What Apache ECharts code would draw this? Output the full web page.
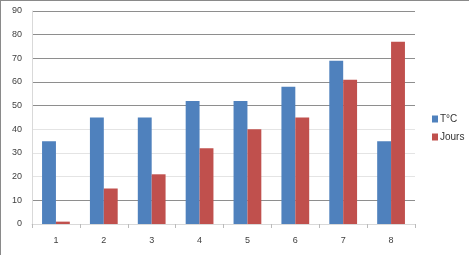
<!DOCTYPE html>
<html><head><meta charset="utf-8">
<script src="https://cdn.jsdelivr.net/npm/echarts@6/dist/echarts.min.js"></script>
<style>
html,body{margin:0;padding:0;background:#fff;}
#c{position:absolute;left:0;top:0;width:470px;height:255px;}
#b{position:absolute;left:0;top:0;width:469px;height:260px;border-left:1px solid #8a8a8a;border-top:1px solid #8a8a8a;box-sizing:border-box;pointer-events:none;}
</style></head>
<body><div id="c"></div><div id="b"></div>
<script>
const categories = ['1','2','3','4','5','6','7','8'];
const tempValues = [35, 45, 45, 52, 52, 58, 69, 35];
const joursValues = [1, 15, 21, 32, 40, 45, 61, 77];
const seriesNames = ['T°C', 'Jours'];
const yTicks = [0, 10, 20, 30, 40, 50, 60, 70, 80, 90];

const dark = '#8e8e8e', light = '#e4e4e4';
const chart = echarts.init(document.getElementById('c'), null, {renderer:'canvas'});
chart.setOption({
  animation:false,
  textStyle:{fontFamily:'Liberation Sans'},
  grid:{left:32, right:55, top:11, bottom:31},
  legend:{
    orient:'vertical', left:427, top:109, itemWidth:6, itemHeight:7, itemGap:8,
    icon:'rect', textStyle:{fontSize:10, color:'#333', padding:[0,0,0,-3]},
    data:seriesNames
  },
  xAxis:{
    type:'category', data:categories,
    axisLine:{lineStyle:{color:'#d9d9d9'}},
    axisTick:{show:true, length:4, lineStyle:{color:'#bbbbbb'}},
    axisLabel:{color:'#404040', fontSize:9, margin:12}
  },
  yAxis:{
    type:'value', min:yTicks[0], max:yTicks[yTicks.length-1], interval:10,
    axisLine:{show:true, lineStyle:{color:'#d9d9d9'}},
    axisTick:{show:false},
    axisLabel:{color:'#404040', fontSize:9, margin:10},
    splitLine:{lineStyle:{color:[light, dark, light, light, light, dark, dark, dark, dark, dark]}}
  },
  series:[
    {name:seriesNames[0], type:'bar', data:tempValues, barWidth:'29%', barGap:'0%', itemStyle:{color:'#4f81bd'}},
    {name:seriesNames[1], type:'bar', data:joursValues, barWidth:'29%', barGap:'0%', itemStyle:{color:'#c0504d'}}
  ]
});
</script></body></html>
